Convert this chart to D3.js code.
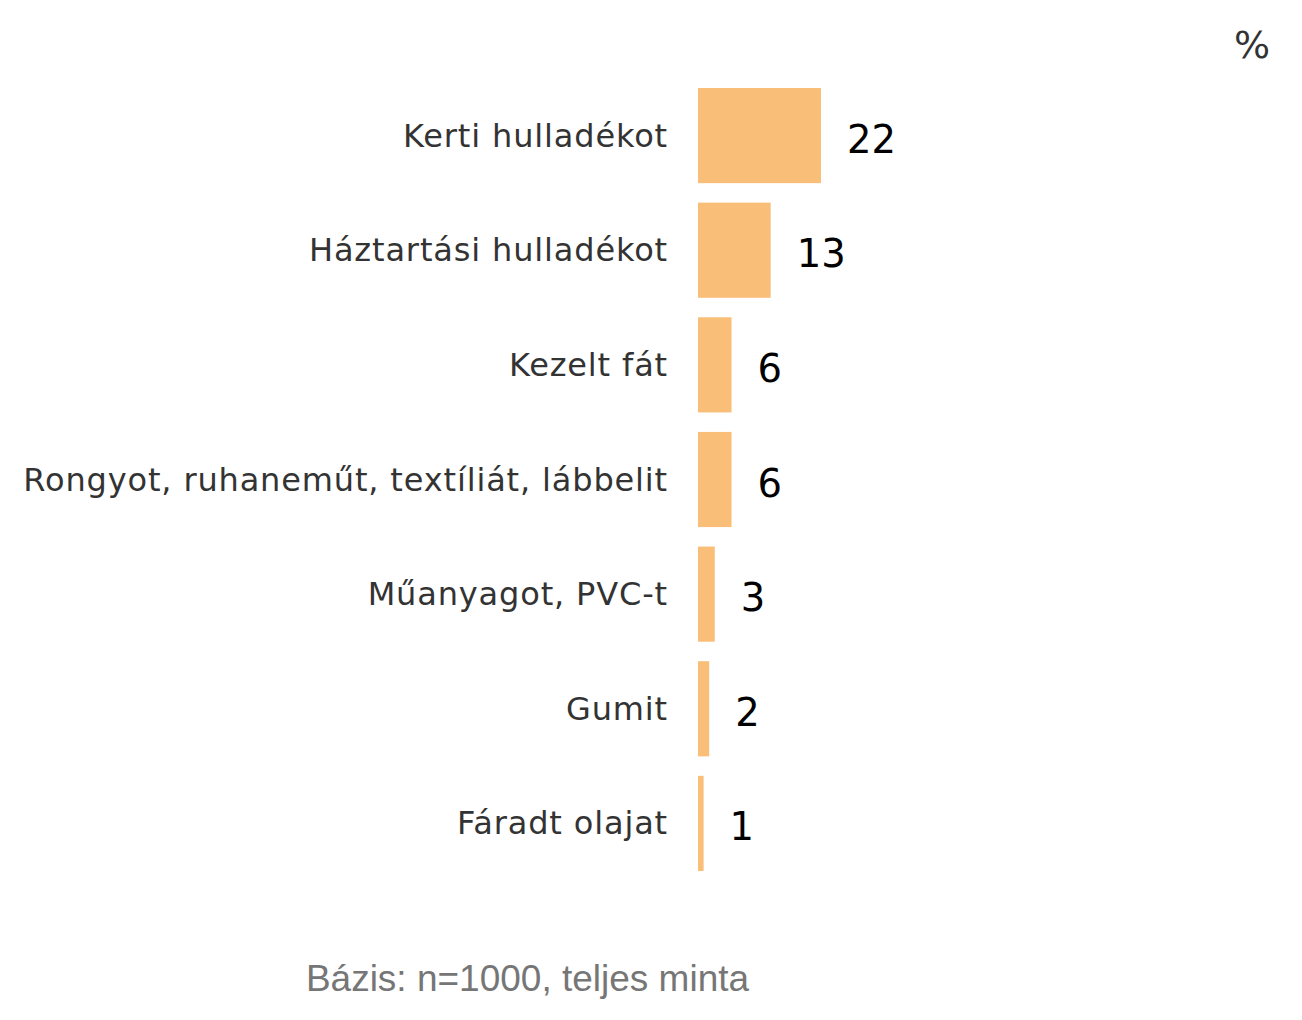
<!DOCTYPE html>
<html>
<head>
<meta charset="utf-8">
<script src="https://cdn.jsdelivr.net/npm/d3@7"></script>
<style>
  body { margin: 0; background: #fff; }
</style>
</head>
<body>
<script>
let categories = [
  "Kerti hulladékot",
  "Háztartási hulladékot",
  "Kezelt fát",
  "Rongyot, ruhaneműt, textíliát, lábbelit",
  "Műanyagot, PVC-t",
  "Gumit",
  "Fáradt olajat"
];
let values = [22, 13, 6, 6, 3, 2, 1];
let unitLabel = "%";
let footnote = "Bázis: n=1000, teljes minta";

let w = 1302, h = 1020;
let barLeft = 698;

let svg = d3.select("body")
  .append("svg")
  .attr("width", w)
  .attr("height", h);

// 22 -> ~123px
let xScale = d3.scaleLinear().domain([0, 22]).range([barLeft, barLeft + 123]);
let yScale = d3.scaleBand()
  .domain(categories)
  .range([88, 871])
  .paddingInner(0.17)
  .paddingOuter(0);

let rows = svg.selectAll(".row")
  .data(categories)
  .enter()
  .append("g")
  .attr("class", "row");

rows.append("rect")
  .attr("x", xScale(0))
  .attr("y", function (d) { return yScale(d); })
  .attr("width", function (d, i) { return xScale(values[i]) - xScale(0); })
  .attr("height", yScale.bandwidth())
  .attr("fill", "#f9be78");

// category labels (letter-spacing to approximate Verdana widths)
rows.append("text")
  .text(function (d) { return d; })
  .attr("x", 668)
  .attr("y", function (d) { return yScale(d) + yScale.bandwidth() / 2 + 11; })
  .attr("font-family", "'DejaVu Sans', Verdana, sans-serif")
  .attr("font-size", "32px")
  .attr("letter-spacing", "0.85px")
  .attr("fill", "#333333")
  .attr("text-anchor", "end");

// value labels
rows.append("text")
  .text(function (d, i) { return values[i]; })
  .attr("x", function (d, i) { return xScale(values[i]) + 26; })
  .attr("y", function (d) { return yScale(d) + yScale.bandwidth() / 2 + 17; })
  .attr("font-family", "'DejaVu Sans', Verdana, sans-serif")
  .attr("font-size", "38.5px")
  .attr("fill", "#000000")
  .attr("text-anchor", "start");

svg.append("text")
  .text(unitLabel)
  .attr("x", 1270)
  .attr("y", 58)
  .attr("font-family", "'DejaVu Sans', Verdana, sans-serif")
  .attr("font-size", "38px")
  .attr("fill", "#333333")
  .attr("text-anchor", "end");

svg.append("text")
  .text(footnote)
  .attr("x", 527.5)
  .attr("y", 991)
  .attr("font-family", "'Liberation Sans', Arial, sans-serif")
  .attr("font-size", "37px")
  .attr("fill", "#767676")
  .attr("text-anchor", "middle");
</script>
</body>
</html>
